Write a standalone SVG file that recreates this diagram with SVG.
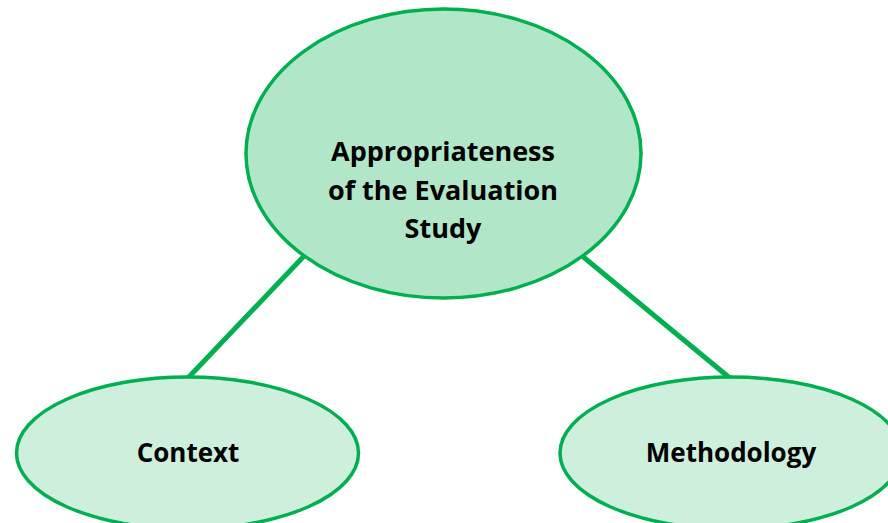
<svg xmlns="http://www.w3.org/2000/svg" width="888" height="523" viewBox="0 0 888 523">
<style>
.node{stroke:#00b050;stroke-width:3.5}
.main{fill:#b2e6c9}
.sub{fill:#ceefdc}
.lbl{font-family:"Open Sans","Noto Sans","Liberation Sans",sans-serif;font-weight:bold;font-size:26px;fill:#000;text-anchor:middle}
.big{font-size:27px}
.conn{stroke:#00b050;stroke-width:5;fill:none}
</style>
<rect width="888" height="523" fill="#fff"/>
<g id="connectors">
<line class="conn" x1="305" y1="255" x2="187" y2="379"/>
<line class="conn" x1="581" y1="255" x2="731" y2="379"/>
</g>
<g id="node-main">
<ellipse class="node main" cx="443.5" cy="153.5" rx="197.5" ry="144.5"/>
<text class="lbl big" x="443" y="161">Appropriateness</text>
<text class="lbl big" x="443" y="199.5">of the Evaluation</text>
<text class="lbl big" x="443" y="238">Study</text>
</g>
<g id="node-context">
<ellipse class="node sub" cx="187.5" cy="453" rx="171" ry="76"/>
<text class="lbl" x="188" y="462">Context</text>
</g>
<g id="node-methodology">
<ellipse class="node sub" cx="731" cy="453" rx="171" ry="76"/>
<text class="lbl" x="731" y="462">Methodology</text>
</g>
</svg>
